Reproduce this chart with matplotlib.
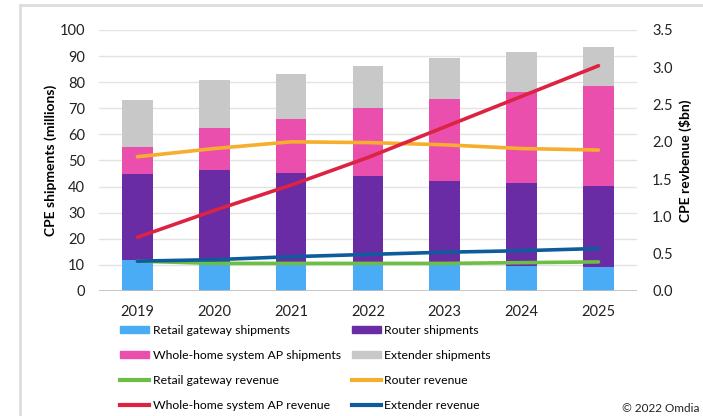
import matplotlib
matplotlib.use("Agg")
import matplotlib.pyplot as plt
from matplotlib.lines import Line2D
from matplotlib.patches import Patch
import numpy as np

plt.rcParams['font.family'] = ['Lato', 'DejaVu Sans']

years = ["2019", "2020", "2021", "2022", "2023", "2024", "2025"]
retail_ship = [12.0, 11.0, 10.8, 10.3, 9.8, 9.4, 9.3]
router_ship = [33.0, 35.5, 34.4, 33.8, 32.5, 31.9, 31.1]
wholehome_ship = [10.3, 16.1, 20.8, 25.9, 31.3, 34.9, 38.0]
extender_ship = [17.7, 18.1, 17.1, 16.2, 15.8, 15.4, 15.2]

retail_rev = [0.40, 0.37, 0.37, 0.37, 0.37, 0.38, 0.39]
router_rev = [1.80, 1.91, 2.00, 1.99, 1.96, 1.91, 1.89]
wholehome_rev = [0.72, 1.08, 1.42, 1.79, 2.20, 2.61, 3.02]
extender_rev = [0.40, 0.42, 0.46, 0.49, 0.52, 0.54, 0.57]

left_ticks = [0, 10, 20, 30, 40, 50, 60, 70, 80, 90, 100]
right_ticks = [0.0, 0.5, 1.0, 1.5, 2.0, 2.5, 3.0, 3.5]

c_retail = "#4BACF6"
c_router = "#6A2CA5"
c_whole = "#EA4FAD"
c_ext = "#C8C8C8"
c_rretail = "#6CBE45"
c_rrouter = "#F6AE2D"
c_rwhole = "#DC2341"
c_rext = "#0F5C9C"

fig = plt.figure(figsize=(7.03, 4.16), dpi=100)
ax = fig.add_axes([0.1408, 0.3005, 0.7652, 0.6275])
ax2 = ax.twinx()

x = np.arange(len(years))
w = 0.4
b = np.zeros(len(years))
for vals, col in [(retail_ship, c_retail), (router_ship, c_router),
                  (wholehome_ship, c_whole), (extender_ship, c_ext)]:
    ax.bar(x, vals, w, bottom=b, color=col, zorder=2)
    b = b + np.array(vals)

lw = 2.6
for vals, col in [(retail_rev, c_rretail), (router_rev, c_rrouter),
                  (wholehome_rev, c_rwhole), (extender_rev, c_rext)]:
    ax2.plot(x, vals, color=col, lw=lw, solid_capstyle='round', zorder=3)

ax.set_xlim(-0.5, len(years) - 0.5)
ax.set_ylim(0, 100)
ax2.set_ylim(0, 3.5)
ax.set_yticks(left_ticks)
ax.set_yticklabels([str(t) for t in left_ticks])
ax2.set_yticks(right_ticks)
ax2.set_yticklabels([f"{t:.1f}" for t in right_ticks])
ax.set_xticks(x)
ax.set_xticklabels(years)

ax.grid(axis='y', color='#E3E3E3', lw=1, zorder=0)
ax.set_axisbelow(True)
for a in (ax, ax2):
    for s in ['top', 'left', 'right', 'bottom']:
        a.spines[s].set_visible(False)
ax.axhline(0, color='#BFBFBF', lw=1.2, zorder=4)

ax.tick_params(axis='both', length=0, labelsize=10.5, colors='#222222')
ax.tick_params(axis='y', pad=10)
ax.tick_params(axis='x', pad=10)
ax2.tick_params(axis='y', length=0, labelsize=10.5, colors='#222222', pad=11)

ax.set_ylabel("CPE shipments (millions)", fontsize=10, fontweight='bold', labelpad=2)
ax2.set_ylabel("CPE revbenue ($bn)", fontsize=10, fontweight='bold', labelpad=4)

handles = [
    Patch(color=c_retail, label="Retail gateway shipments"),
    Patch(color=c_router, label="Router shipments"),
    Patch(color=c_whole, label="Whole-home system AP shipments"),
    Patch(color=c_ext, label="Extender shipments"),
    Line2D([], [], color=c_rretail, lw=3, label="Retail gateway revenue"),
    Line2D([], [], color=c_rrouter, lw=3, label="Router revenue"),
    Line2D([], [], color=c_rwhole, lw=3, label="Whole-home system AP revenue"),
    Line2D([], [], color=c_rext, lw=3, label="Extender revenue"),
]
leg_kw = dict(loc='upper left', frameon=False, fontsize=8.8, handlelength=2.45,
              handleheight=0.6, handletextpad=0.25, labelspacing=1.14,
              borderaxespad=0, borderpad=0)
col1 = [handles[i] for i in (0, 2, 4, 6)]
col2 = [handles[i] for i in (1, 3, 5, 7)]
leg1 = fig.legend(col1, [h.get_label() for h in col1], bbox_to_anchor=(0.170, 0.219), **leg_kw)
leg2 = fig.legend(col2, [h.get_label() for h in col2], bbox_to_anchor=(0.500, 0.219), **leg_kw)

fig.text(0.995, 0.005, "© 2022 Omdia", ha='right', va='bottom', fontsize=8.5, color='#222222')

fig.add_artist(Line2D([0.028, 1.0], [0.988, 0.988], color='#DDDDDD', lw=2, transform=fig.transFigure))
fig.add_artist(Line2D([0.029, 0.029], [0.0, 0.988], color='#DDDDDD', lw=2, transform=fig.transFigure))

fig.savefig("out.png", dpi=100)
